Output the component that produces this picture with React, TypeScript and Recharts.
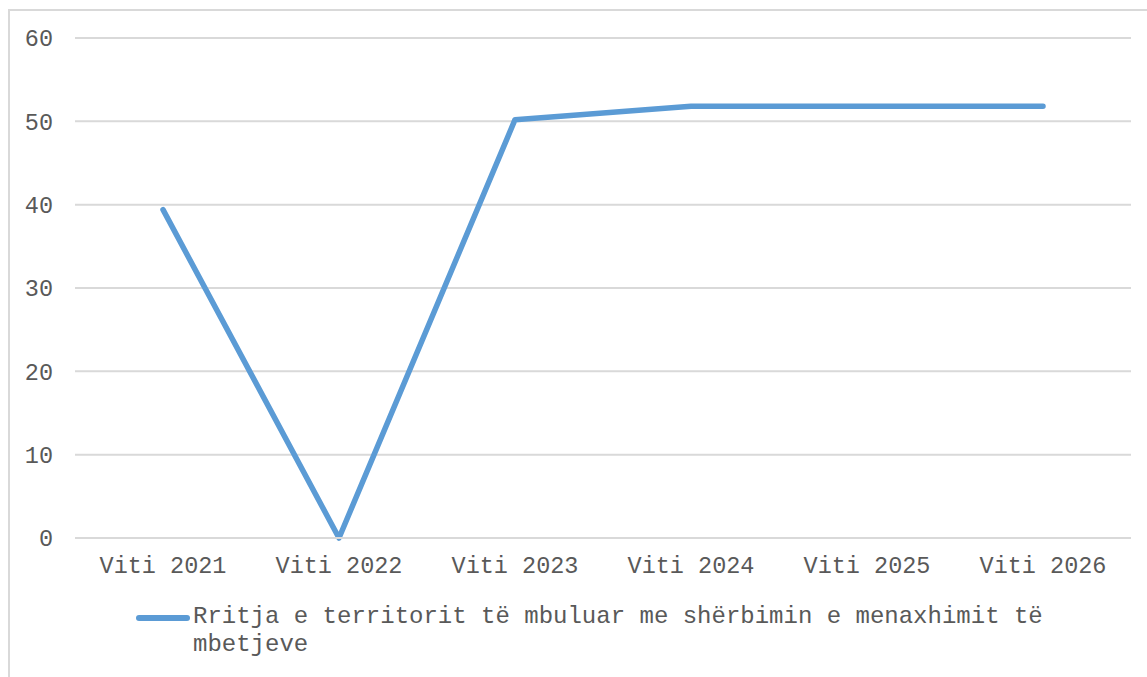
import { CartesianGrid, Legend, Line, LineChart, XAxis, YAxis } from "recharts";

const years = ["Viti 2021", "Viti 2022", "Viti 2023", "Viti 2024", "Viti 2025", "Viti 2026"];
const coverage = [39.4, 0, 50.2, 51.8, 51.8, 51.8];
const yTicks = [0, 10, 20, 30, 40, 50, 60];
const seriesName = "Rritja e territorit të mbuluar me shërbimin e menaxhimit të mbetjeve";

const FONT = '"Liberation Mono", "Courier New", monospace';
const TEXT = "#595959";
const GRID = "#d9d9d9";
const BLUE = "#5b9bd5";

function LegendBox() {
  return (
    <div style={{ position: "relative", height: 60, fontFamily: FONT, fontSize: 24, color: TEXT }}>
      <span
        style={{
          position: "absolute",
          left: 136,
          top: 19,
          width: 54,
          height: 6,
          borderRadius: 3,
          background: BLUE,
        }}
      />
      <div style={{ position: "absolute", left: 193, top: 7, width: 880, lineHeight: "28px", textAlign: "left" }}>
        {seriesName}
      </div>
    </div>
  );
}

export default function App() {
  const data = years.map((y, i) => ({ year: y, value: coverage[i] }));

  return (
    <div style={{ position: "absolute", left: 0, top: 0, width: 1147, height: 677, overflow: "hidden", background: "#fff" }}>
      <div
        style={{
          position: "absolute",
          left: 8,
          top: 9,
          width: 1300,
          height: 800,
          border: `2px solid ${GRID}`,
        }}
      />
      <LineChart
        width={1147}
        height={677}
        data={data}
        margin={{ top: 38, right: 16, bottom: 0, left: 0 }}
        style={{ position: "absolute", left: 0, top: 0 }}
      >
        <CartesianGrid stroke={GRID} strokeWidth={2} vertical={false} />
        <XAxis
          dataKey="year"
          padding={{ left: 88, right: 88 }}
          axisLine={{ stroke: GRID, strokeWidth: 2 }}
          tickLine={false}
          tickSize={0}
          tickMargin={18}
          height={79}
          interval={0}
          tick={{ fill: TEXT, fontSize: 23.5, fontFamily: FONT }}
        />
        <YAxis
          domain={[0, 60]}
          ticks={yTicks}
          width={75}
          axisLine={false}
          tickLine={false}
          tickSize={0}
          tickMargin={22}
          tick={{ fill: TEXT, fontSize: 23.5, fontFamily: FONT }}
        />
        <Legend
          verticalAlign="bottom"
          content={() => <LegendBox />}
          wrapperStyle={{ left: 0, top: 596, width: 1147 }}
        />
        <Line
          type="linear"
          dataKey="value"
          name={seriesName}
          stroke={BLUE}
          strokeWidth={5.5}
          strokeLinecap="round"
          strokeLinejoin="round"
          dot={false}
          activeDot={false}
          isAnimationActive={false}
        />
      </LineChart>
    </div>
  );
}
